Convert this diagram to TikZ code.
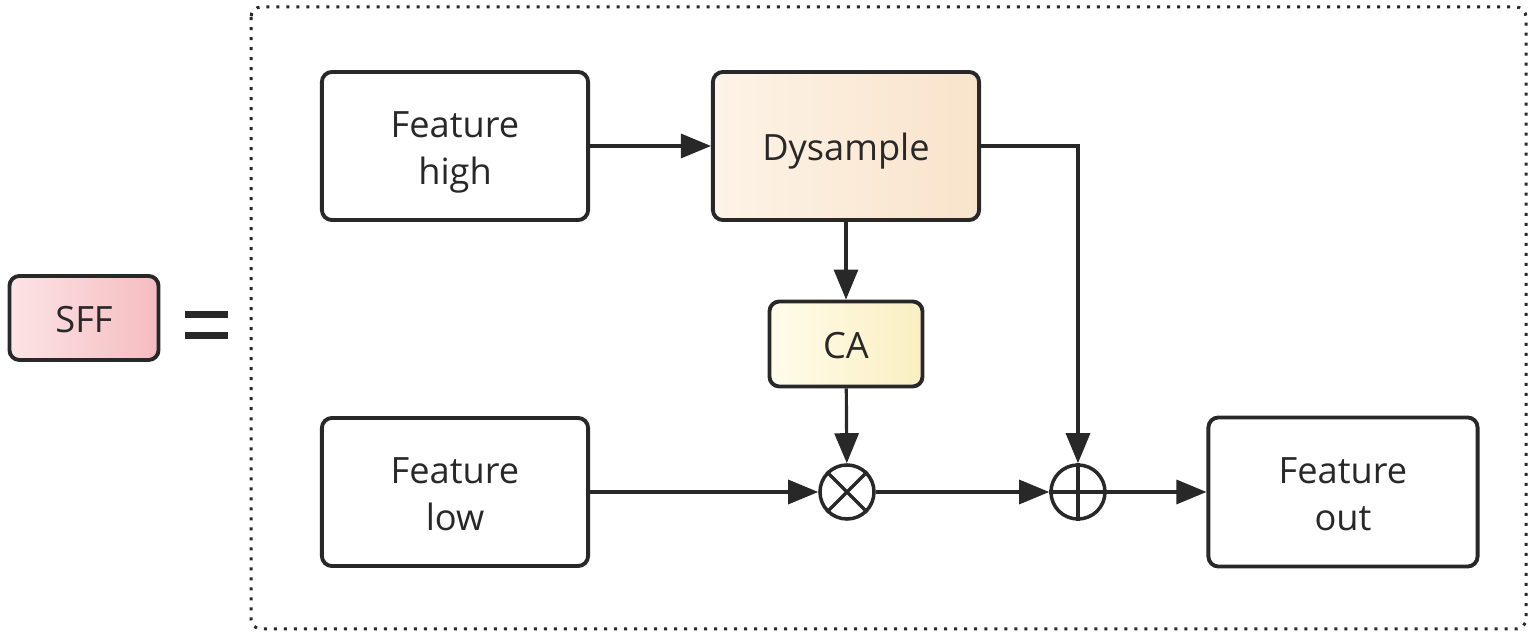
\documentclass[tikz,border=0pt]{standalone}
\usepackage{fontspec}
\setmainfont{Open Sans}
\usetikzlibrary{arrows.meta}
\definecolor{ink}{RGB}{40,40,40}
\definecolor{sffl}{RGB}{252,228,230}
\definecolor{sffr}{RGB}{245,188,192}
\definecolor{dysl}{RGB}{253,243,231}
\definecolor{dysr}{RGB}{249,227,203}
\definecolor{cal}{RGB}{255,252,234}
\definecolor{car}{RGB}{250,239,194}

\begin{document}
\begin{tikzpicture}[x=0.01cm,y=-0.01cm,>={Triangle[length=0.3cm,width=0.24cm]}]
            \tikzstyle{block} = [rectangle,rounded corners=0.1cm,draw=ink,line width=1.1pt,text=ink,font=\fontsize{10.3}{13.4}\selectfont,align=center,minimum width=2.66cm,minimum height=1.48cm,inner sep=0pt,text height=0.37cm,text depth=0.08cm];
            \tikzstyle{twoline} = [text height=0.77cm,text depth=0cm];
            \tikzstyle{op} = [circle,draw=ink,line width=1pt,minimum size=0.54cm,inner sep=0pt];
            \tikzstyle{link} = [->,draw=ink,line width=0.9pt];
            \useasboundingbox (0,0) rectangle (1535,637);
            \draw[ink,line width=0.03cm,dash pattern=on 0.03cm off 0.07cm,rounded corners=0.1cm] (251,7) rectangle (1526,629);
            \node[block,left color=sffl,right color=sffr,minimum width=1.49cm,minimum height=0.84cm] (sff) at (84,318) {SFF};
            \draw[ink,line width=0.07cm] (185,315) -- (228,315) (185,336) -- (228,336);
            \node[block,twoline] (fhigh) at (455,146) {Feature\\high};
            \node[block,left color=dysl,right color=dysr] (dys) at (846,146) {Dysample};
            \node[block,left color=cal,right color=car,minimum width=1.53cm,minimum height=0.85cm] (ca) at (846,344) {CA};
            \node[block,twoline] (flow) at (455,492) {Feature\\low};
            \node[op] (mul) at (847,492) {};
            \node[op] (add) at (1078,492) {};
            \node[block,twoline,minimum width=2.69cm,minimum height=1.49cm] (fout) at (1343,492) {Feature\\out};
            \draw[ink,line width=1pt] (mul.north west) -- (mul.south east) (mul.north east) -- (mul.south west);
            \draw[ink,line width=1pt] (add.north) -- (add.south) (add.west) -- (add.east);
            \draw[link] (fhigh) -- (dys);
            \draw[link] (dys) -- (ca);
            \draw[link] (ca) -- (mul);
            \draw[link] (flow) -- (mul);
            \draw[link] (mul) -- (add);
            \draw[link] (dys.east) -| (add.north);
            \draw[link] (add) -- (fout);
        \end{tikzpicture}
\end{document}
